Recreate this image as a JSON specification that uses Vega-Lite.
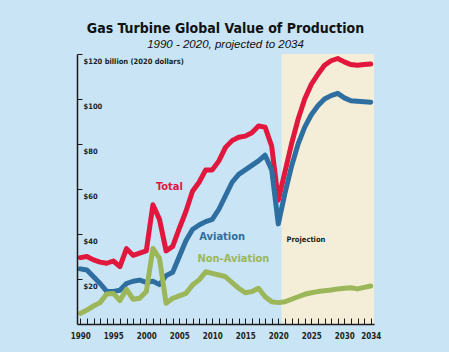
{
  "$schema": "https://vega.github.io/schema/vega-lite/v6.json",
  "width": 297,
  "height": 270,
  "autosize": "none",
  "padding": {"left": 77, "top": 54, "right": 75, "bottom": 28},
  "background": "#c8e4f5",
  "title": {
    "text": "Gas Turbine Global Value of Production",
    "subtitle": "1990 - 2020, projected to 2034",
    "anchor": "middle",
    "font": "DejaVu Sans Condensed, sans-serif",
    "fontSize": 14,
    "fontWeight": "bold",
    "color": "#111111",
    "subtitleFont": "Liberation Sans, sans-serif",
    "subtitleFontSize": 11.5,
    "subtitleFontStyle": "italic",
    "subtitleColor": "#111111",
    "subtitlePadding": 3,
    "offset": 3
  },
  "config": {
    "view": {"stroke": null},
    "axis": {"labelOverlap": false, "grid": false, "zindex": 1}
  },
  "datasets": {
    "series": [
      {"year": 1990, "series": "Total", "value": 29.5},
      {"year": 1991, "series": "Total", "value": 30},
      {"year": 1992, "series": "Total", "value": 28.5},
      {"year": 1993, "series": "Total", "value": 27.5},
      {"year": 1994, "series": "Total", "value": 27},
      {"year": 1995, "series": "Total", "value": 28},
      {"year": 1996, "series": "Total", "value": 25.5},
      {"year": 1997, "series": "Total", "value": 33.5},
      {"year": 1998, "series": "Total", "value": 30.5},
      {"year": 1999, "series": "Total", "value": 31.5},
      {"year": 2000, "series": "Total", "value": 32.5},
      {"year": 2001, "series": "Total", "value": 53},
      {"year": 2002, "series": "Total", "value": 46.5},
      {"year": 2003, "series": "Total", "value": 32.5},
      {"year": 2004, "series": "Total", "value": 34.5},
      {"year": 2005, "series": "Total", "value": 42.5},
      {"year": 2006, "series": "Total", "value": 50},
      {"year": 2007, "series": "Total", "value": 59},
      {"year": 2008, "series": "Total", "value": 63},
      {"year": 2009, "series": "Total", "value": 68.5},
      {"year": 2010, "series": "Total", "value": 68.5},
      {"year": 2011, "series": "Total", "value": 72.5},
      {"year": 2012, "series": "Total", "value": 78.5},
      {"year": 2013, "series": "Total", "value": 81.5},
      {"year": 2014, "series": "Total", "value": 83},
      {"year": 2015, "series": "Total", "value": 83.5},
      {"year": 2016, "series": "Total", "value": 85},
      {"year": 2017, "series": "Total", "value": 88},
      {"year": 2018, "series": "Total", "value": 87.5},
      {"year": 2019, "series": "Total", "value": 79},
      {"year": 2020, "series": "Total", "value": 55},
      {"year": 2021, "series": "Total", "value": 67.5},
      {"year": 2022, "series": "Total", "value": 80},
      {"year": 2023, "series": "Total", "value": 91},
      {"year": 2024, "series": "Total", "value": 100},
      {"year": 2025, "series": "Total", "value": 106.5},
      {"year": 2026, "series": "Total", "value": 111},
      {"year": 2027, "series": "Total", "value": 115},
      {"year": 2028, "series": "Total", "value": 117},
      {"year": 2029, "series": "Total", "value": 118},
      {"year": 2030, "series": "Total", "value": 116.5},
      {"year": 2031, "series": "Total", "value": 115.3},
      {"year": 2032, "series": "Total", "value": 115},
      {"year": 2033, "series": "Total", "value": 115.3},
      {"year": 2034, "series": "Total", "value": 115.6},
      {"year": 1990, "series": "Aviation", "value": 24.5},
      {"year": 1991, "series": "Aviation", "value": 24},
      {"year": 1992, "series": "Aviation", "value": 21},
      {"year": 1993, "series": "Aviation", "value": 18},
      {"year": 1994, "series": "Aviation", "value": 14.5},
      {"year": 1995, "series": "Aviation", "value": 14.5},
      {"year": 1996, "series": "Aviation", "value": 15},
      {"year": 1997, "series": "Aviation", "value": 18},
      {"year": 1998, "series": "Aviation", "value": 19},
      {"year": 1999, "series": "Aviation", "value": 19.5},
      {"year": 2000, "series": "Aviation", "value": 18.5},
      {"year": 2001, "series": "Aviation", "value": 19},
      {"year": 2002, "series": "Aviation", "value": 17.5},
      {"year": 2003, "series": "Aviation", "value": 21.5},
      {"year": 2004, "series": "Aviation", "value": 23},
      {"year": 2005, "series": "Aviation", "value": 30},
      {"year": 2006, "series": "Aviation", "value": 37},
      {"year": 2007, "series": "Aviation", "value": 42},
      {"year": 2008, "series": "Aviation", "value": 44},
      {"year": 2009, "series": "Aviation", "value": 45.5},
      {"year": 2010, "series": "Aviation", "value": 46.5},
      {"year": 2011, "series": "Aviation", "value": 51},
      {"year": 2012, "series": "Aviation", "value": 57},
      {"year": 2013, "series": "Aviation", "value": 63},
      {"year": 2014, "series": "Aviation", "value": 66.5},
      {"year": 2015, "series": "Aviation", "value": 68.5},
      {"year": 2016, "series": "Aviation", "value": 70.5},
      {"year": 2017, "series": "Aviation", "value": 72.5},
      {"year": 2018, "series": "Aviation", "value": 75},
      {"year": 2019, "series": "Aviation", "value": 68.5},
      {"year": 2020, "series": "Aviation", "value": 44.5},
      {"year": 2021, "series": "Aviation", "value": 58},
      {"year": 2022, "series": "Aviation", "value": 70},
      {"year": 2023, "series": "Aviation", "value": 80},
      {"year": 2024, "series": "Aviation", "value": 87.5},
      {"year": 2025, "series": "Aviation", "value": 93},
      {"year": 2026, "series": "Aviation", "value": 97},
      {"year": 2027, "series": "Aviation", "value": 100},
      {"year": 2028, "series": "Aviation", "value": 101.5},
      {"year": 2029, "series": "Aviation", "value": 102.5},
      {"year": 2030, "series": "Aviation", "value": 100.5},
      {"year": 2031, "series": "Aviation", "value": 99.2},
      {"year": 2032, "series": "Aviation", "value": 99},
      {"year": 2033, "series": "Aviation", "value": 98.8},
      {"year": 2034, "series": "Aviation", "value": 98.6},
      {"year": 1990, "series": "Non-Aviation", "value": 4.7},
      {"year": 1991, "series": "Non-Aviation", "value": 6.2},
      {"year": 1992, "series": "Non-Aviation", "value": 8},
      {"year": 1993, "series": "Non-Aviation", "value": 9.5},
      {"year": 1994, "series": "Non-Aviation", "value": 13.3},
      {"year": 1995, "series": "Non-Aviation", "value": 13.6},
      {"year": 1996, "series": "Non-Aviation", "value": 10.4},
      {"year": 1997, "series": "Non-Aviation", "value": 15.4},
      {"year": 1998, "series": "Non-Aviation", "value": 11},
      {"year": 1999, "series": "Non-Aviation", "value": 11.4},
      {"year": 2000, "series": "Non-Aviation", "value": 14.4},
      {"year": 2001, "series": "Non-Aviation", "value": 33.6},
      {"year": 2002, "series": "Non-Aviation", "value": 29.2},
      {"year": 2003, "series": "Non-Aviation", "value": 9.2},
      {"year": 2004, "series": "Non-Aviation", "value": 11.4},
      {"year": 2005, "series": "Non-Aviation", "value": 12.5},
      {"year": 2006, "series": "Non-Aviation", "value": 13.6},
      {"year": 2007, "series": "Non-Aviation", "value": 17.3},
      {"year": 2008, "series": "Non-Aviation", "value": 19.6},
      {"year": 2009, "series": "Non-Aviation", "value": 23.2},
      {"year": 2010, "series": "Non-Aviation", "value": 22.5},
      {"year": 2011, "series": "Non-Aviation", "value": 21.8},
      {"year": 2012, "series": "Non-Aviation", "value": 21},
      {"year": 2013, "series": "Non-Aviation", "value": 18.4},
      {"year": 2014, "series": "Non-Aviation", "value": 15.9},
      {"year": 2015, "series": "Non-Aviation", "value": 13.9},
      {"year": 2016, "series": "Non-Aviation", "value": 14.4},
      {"year": 2017, "series": "Non-Aviation", "value": 15.9},
      {"year": 2018, "series": "Non-Aviation", "value": 12.1},
      {"year": 2019, "series": "Non-Aviation", "value": 9.9},
      {"year": 2020, "series": "Non-Aviation", "value": 9.5},
      {"year": 2021, "series": "Non-Aviation", "value": 9.9},
      {"year": 2022, "series": "Non-Aviation", "value": 11},
      {"year": 2023, "series": "Non-Aviation", "value": 12.1},
      {"year": 2024, "series": "Non-Aviation", "value": 13.2},
      {"year": 2025, "series": "Non-Aviation", "value": 13.9},
      {"year": 2026, "series": "Non-Aviation", "value": 14.4},
      {"year": 2027, "series": "Non-Aviation", "value": 14.8},
      {"year": 2028, "series": "Non-Aviation", "value": 15.1},
      {"year": 2029, "series": "Non-Aviation", "value": 15.6},
      {"year": 2030, "series": "Non-Aviation", "value": 15.9},
      {"year": 2031, "series": "Non-Aviation", "value": 16.1},
      {"year": 2032, "series": "Non-Aviation", "value": 15.6},
      {"year": 2033, "series": "Non-Aviation", "value": 16.3},
      {"year": 2034, "series": "Non-Aviation", "value": 16.9}
    ],
    "labels": [
      {"year": 2003.5, "value": 61, "label": "Total", "series": "Total"},
      {"year": 2011.5, "value": 38.5, "label": "Aviation", "series": "Aviation"},
      {"year": 2013.2, "value": 28.8, "label": "Non-Aviation", "series": "Non-Aviation"}
    ],
    "shade": [
      {"start": 2020.5, "end": 2034.5, "bottom": 0, "top": 120, "label": "Projection", "ly": 37.5}
    ]
  },
  "layer": [
    {
      "data": {"name": "shade"},
      "mark": {"type": "rect", "color": "#f4eed8"},
      "encoding": {
        "x": {"field": "start", "type": "quantitative", "scale": {"domain": [1989.5, 2034.5], "nice": false, "zero": false},
          "axis": {
            "values": [1990,1991,1992,1993,1994,1995,1996,1997,1998,1999,2000,2001,2002,2003,2004,2005,2006,2007,2008,2009,2010,2011,2012,2013,2014,2015,2016,2017,2018,2019,2020,2021,2022,2023,2024,2025,2026,2027,2028,2029,2030,2031,2032,2033,2034],
            "tickCount": 100,
            "labelExpr": "(datum.value % 5 == 0 || datum.value == 2034) ? '' + datum.value : ''",
            "labelOverlap": false,
            "labelFlush": false,
            "labelBound": false,
            "title": null,
            "grid": false,
            "zindex": 1,
            "tickSize": -6,
            "tickColor": "#1a1a1a",
            "tickWidth": 1,
            "domainColor": "#1a1a1a",
            "domainWidth": 1.5,
            "labelFont": "DejaVu Sans Condensed, sans-serif",
            "labelFontWeight": "bold",
            "labelFontSize": 8,
            "labelColor": "#222222",
            "labelPadding": 18,
            "labelBaseline": "middle"
          }
        },
        "x2": {"field": "end"},
        "y": {"field": "bottom", "type": "quantitative", "scale": {"domain": [0, 120], "nice": false},
          "axis": {
            "values": [20, 40, 60, 80, 100, 120],
            "tickCount": 20,
            "labelExpr": "datum.value == 120 ? '$120 billion (2020 dollars)' : '$' + datum.value",
            "labelOverlap": false,
            "title": null,
            "grid": false,
            "zindex": 1,
            "tickSize": -5,
            "tickColor": "#1a1a1a",
            "domainColor": "#1a1a1a",
            "domainWidth": 1.5,
            "labelAlign": "left",
            "labelBaseline": "top",
            "labelPadding": -1,
            "labelOffset": 3,
            "labelFont": "DejaVu Sans Condensed, sans-serif",
            "labelFontWeight": "bold",
            "labelFontSize": 7.5,
            "labelColor": "#222222"
          }
        },
        "y2": {"field": "top"}
      }
    },
    {
      "data": {"name": "shade"},
      "mark": {"type": "text", "align": "left", "baseline": "middle", "dx": 5, "font": "DejaVu Sans Condensed, sans-serif", "fontWeight": "bold", "fontSize": 7.5, "color": "#222222"},
      "encoding": {
        "x": {"field": "start", "type": "quantitative"},
        "y": {"field": "ly", "type": "quantitative"},
        "text": {"field": "label", "type": "nominal"}
      }
    },
    {
      "data": {"name": "series"},
      "mark": {"type": "line", "strokeWidth": 5, "strokeCap": "round", "strokeJoin": "round"},
      "encoding": {
        "x": {"field": "year", "type": "quantitative"},
        "y": {"field": "value", "type": "quantitative"},
        "color": {"field": "series", "type": "nominal", "scale": {"domain": ["Total", "Aviation", "Non-Aviation"], "range": ["#e1173d", "#2f6ea0", "#9bb75a"]}, "legend": null}
      }
    },
    {
      "data": {"name": "labels"},
      "mark": {"type": "text", "align": "center", "baseline": "middle", "font": "DejaVu Sans Condensed, sans-serif", "fontWeight": "bold", "fontSize": 11},
      "encoding": {
        "x": {"field": "year", "type": "quantitative"},
        "y": {"field": "value", "type": "quantitative"},
        "text": {"field": "label", "type": "nominal"},
        "color": {"field": "series", "type": "nominal", "legend": null}
      }
    }
  ]
}
